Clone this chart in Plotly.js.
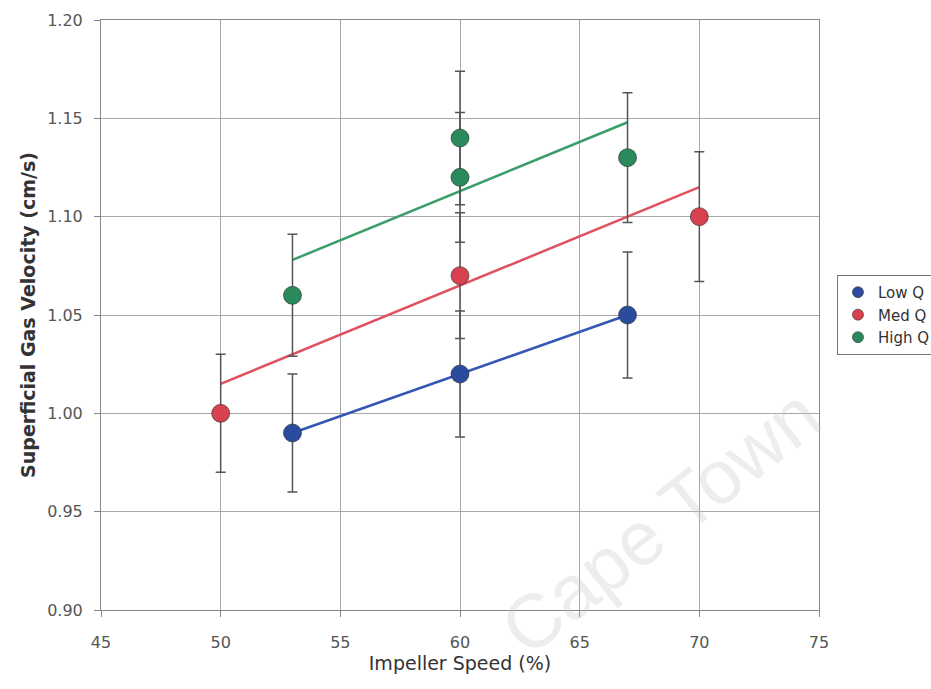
<!DOCTYPE html>
<html><head><meta charset="utf-8">
<script src="https://cdn.plot.ly/plotly-3.0.1.min.js"></script>
<style>html,body{margin:0;padding:0;background:#fff;}#chart{width:931px;height:689px;}</style>
</head><body><div id="chart"></div>
<script>
// Data
const lowX = [53, 60, 67];
const lowY = [0.99, 1.02, 1.05];
const lowErr = [0.03, 0.032, 0.032];
const medX = [50, 60, 70];
const medY = [1.00, 1.07, 1.10];
const medErr = [0.03, 0.032, 0.033];
const highX = [53, 60, 60, 67];
const highY = [1.06, 1.14, 1.12, 1.13];
const highErr = [0.031, 0.034, 0.033, 0.033];
// Trend lines (end points)
const lowTrendX = [53, 67];
const lowTrendY = [0.99, 1.05];
const medTrendX = [50, 70];
const medTrendY = [1.015, 1.115];
const highTrendX = [53, 67];
const highTrendY = [1.078, 1.148];

const seriesNames = ['Low Q', 'Med Q', 'High Q'];
const markerColors = ['#2b4c9e', '#d8414f', '#2a8a5c'];
const lineColors = ['#3457b5', '#e0505f', '#3a9d6a'];
const FONT = 'DejaVu Sans, Liberation Sans, Arial, sans-serif';

function trend(x, y, i) {
  return {x: x, y: y, mode: 'lines', type: 'scatter', showlegend: false, hoverinfo: 'skip',
    line: {color: lineColors[i], width: 2.5}};
}
function pts(x, y, e, i) {
  return {x: x, y: y, mode: 'markers', type: 'scatter', name: seriesNames[i], showlegend: false,
    marker: {color: markerColors[i], size: 18, line: {color: 'rgba(40,40,40,0.6)', width: 1}},
    error_y: {type: 'data', array: e, visible: true, color: '#555', thickness: 1.5, width: 5}};
}
function legendEntry(i) {
  return {x: [null], y: [null], mode: 'markers', type: 'scatter', name: seriesNames[i],
    marker: {color: markerColors[i], size: 11, line: {color: 'rgba(40,40,40,0.6)', width: 1}}};
}

const data = [
  trend(lowTrendX, lowTrendY, 0), trend(medTrendX, medTrendY, 1), trend(highTrendX, highTrendY, 2),
  pts(lowX, lowY, lowErr, 0), pts(medX, medY, medErr, 1), pts(highX, highY, highErr, 2),
  legendEntry(0), legendEntry(1), legendEntry(2)
];

const layout = {
  width: 931, height: 689,
  margin: {l: 101, r: 112, t: 20, b: 79},
  paper_bgcolor: '#fff', plot_bgcolor: '#fff',
  font: {family: FONT, color: '#444', size: 16},
  xaxis: {
    range: [45, 75], dtick: 5, tick0: 45, showgrid: true, gridcolor: '#a8a8a8', gridwidth: 1,
    zeroline: false, showline: true, linecolor: '#888', linewidth: 1, mirror: true,
    ticks: 'outside', ticklen: 6, tickcolor: '#888', ticklabelstandoff: 12,
    tickfont: {size: 16, color: '#555', family: FONT},
    title: {text: 'Impeller Speed (%)', font: {size: 19, color: '#333', family: FONT}, standoff: 0}
  },
  yaxis: {
    range: [0.90, 1.20], dtick: 0.05, tick0: 0.9, tickformat: '.2f', showgrid: true, gridcolor: '#a8a8a8', gridwidth: 1,
    zeroline: false, showline: true, linecolor: '#888', linewidth: 1, mirror: true,
    ticks: 'outside', ticklen: 6, tickcolor: '#888', ticklabelstandoff: 8,
    tickfont: {size: 16, color: '#555', family: FONT},
    title: {text: '<b>Superficial Gas Velocity (cm/s)</b>', font: {size: 19, color: '#333', family: FONT}, standoff: 6}
  },
  legend: {
    xref: 'container', yref: 'container',
    x: 0.899, y: 0.601, xanchor: 'left', yanchor: 'top',
    bordercolor: '#777', borderwidth: 1, bgcolor: '#fff',
    font: {size: 15, color: '#333', family: FONT}, tracegroupgap: 0
  },
  annotations: [{
    text: 'Cape Town', xref: 'paper', yref: 'paper', x: 0.779, y: 0.150,
    xanchor: 'center', yanchor: 'middle',
    showarrow: false, textangle: -38,
    font: {size: 76, color: 'rgba(195,195,195,0.3)', family: 'Liberation Sans, Arial, sans-serif'}
  }],
  showlegend: true
};

Plotly.newPlot('chart', data, layout, {displayModeBar: false, staticPlot: true});
</script>
</body></html>
